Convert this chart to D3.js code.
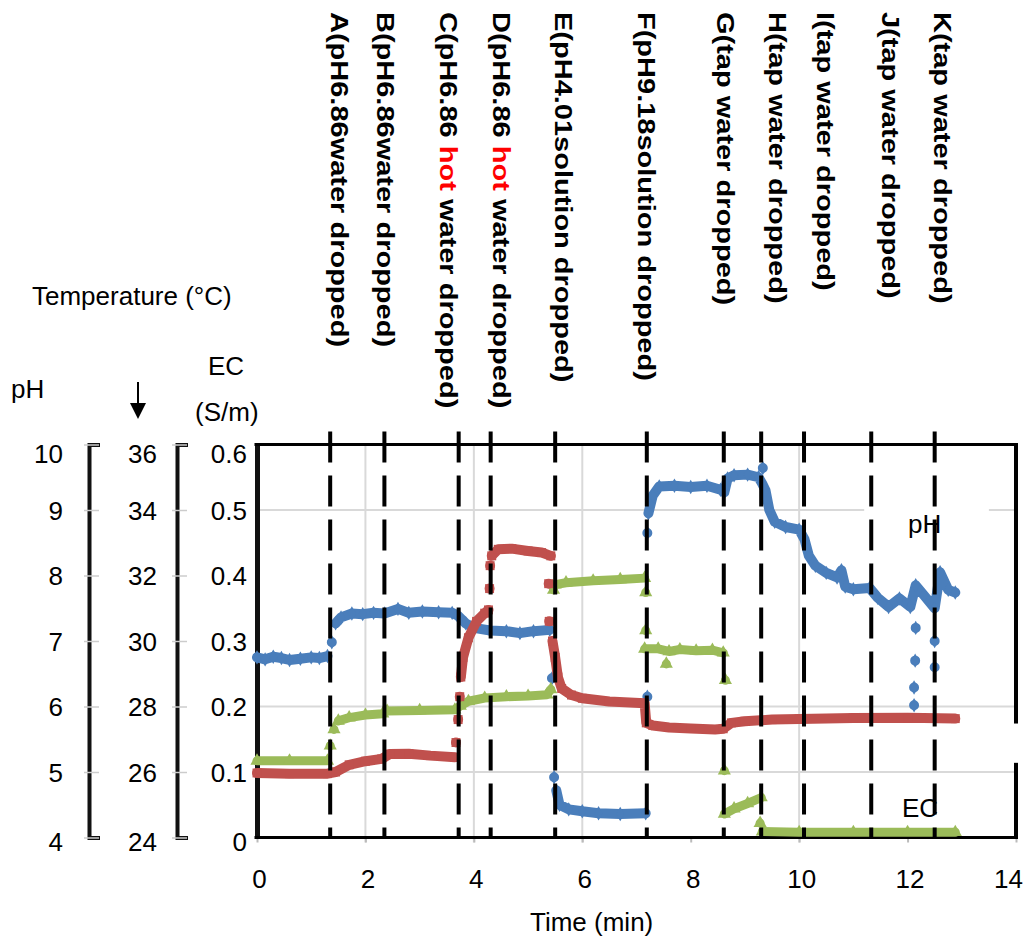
<!DOCTYPE html>
<html>
<head>
<meta charset="utf-8">
<script src="https://cdn.jsdelivr.net/npm/d3@7"></script>
<style>
  body { margin: 0; background: #fff; }
  svg { display: block; font-family: Arial, "Liberation Sans", sans-serif; }
</style>
</head>
<body>
<div id="chart"></div>
<script>
// values; null marks a break in the trace (lone markers)
const phTimes = [0, 0.15, 0.3, 0.45, 0.6, 0.8, 1.0, 1.15, 1.3, null,
  1.38, null,
  1.45, 1.55, 1.75, 1.95, 2.15, 2.35, 2.6, 2.8, 3.05, 3.35, 3.6, 3.7, 3.85, 4.0, 4.3, 4.6, 4.85, 5.1, 5.4, null,
  5.44, null, 5.48, null,
  5.52, 5.58, 5.75, 6.0, 6.3, 6.7, 7.17, null,
  7.2, null, 7.2, null,
  7.22, 7.3, 7.42, 7.7, 8.0, 8.3, 8.55, 8.62, 8.68, 8.8, 9.05, 9.25, 9.32, 9.38, 9.45, 9.55, 9.75, 10.0,
  10.1, 10.18, 10.3, 10.5, 10.7, 10.78, 10.85, 11.0, 11.3, 11.45, 11.65, 11.85, 12.05, 12.15, 12.3, 12.5,
  12.6, 12.75, 12.88, null,
  9.33, null, 12.15, null, 12.14, null, 12.12, null, 12.12, null, 12.5, null, 12.5];
const phValues = [6.75, 6.72, 6.76, 6.74, 6.71, 6.73, 6.75, 6.74, 6.77, null,
  6.98, null,
  7.27, 7.36, 7.42, 7.41, 7.43, 7.42, 7.49, 7.43, 7.45, 7.44, 7.43, 7.39, 7.27, 7.2, 7.16, 7.15, 7.12, 7.15, 7.17, null,
  6.43, null, 4.92, null,
  4.72, 4.5, 4.43, 4.4, 4.37, 4.36, 4.37, null,
  6.15, null, 8.65, null,
  8.95, 9.22, 9.36, 9.37, 9.35, 9.37, 9.31, 9.27, 9.48, 9.53, 9.54, 9.5, 9.4, 9.3, 9.0, 8.82, 8.74, 8.7,
  8.55, 8.3, 8.15, 8.04, 7.97, 8.08, 7.83, 7.79, 7.81, 7.66, 7.52, 7.65, 7.52, 7.85, 7.7, 7.5,
  8.05, 7.78, 7.74, null,
  9.64, null, 7.2, null, 6.7, null, 6.29, null, 6.02, null, 7.0, null, 6.6];

const tempTimes = [0, 0.6, 1.3, 1.45, 1.7, 2.0, 2.3, 2.45, 2.8, 3.2, 3.65, null,
  3.67, null, 3.71, null, 3.74, null,
  3.76, 3.8, 3.9, 4.05, 4.2, 4.27, null,
  4.29, null, 4.3, null,
  4.33, 4.45, 4.7, 5.0, 5.25, 5.42, null,
  5.38, null, 5.39, null,
  5.45, 5.5, 5.55, 5.62, 5.8, 6.0, 6.5, 7.15, 7.18, 7.3, 7.6, 8.0, 8.45, 8.6, 8.75, 9.0, 9.5, 10.0,
  11.0, 12.0, 12.88];
const tempValues = [25.97, 25.95, 25.95, 26.0, 26.22, 26.33, 26.4, 26.55, 26.56, 26.5, 26.45, null,
  26.9, null, 27.6, null, 28.3, null,
  28.9, 29.5, 30.1, 30.6, 30.85, 30.95, null,
  31.6, null, 32.3, null,
  32.6, 32.8, 32.82, 32.75, 32.7, 32.6, null,
  31.75, null, 30.6, null,
  30.0, 29.5, 28.9, 28.55, 28.35, 28.25, 28.15, 28.1, 27.5, 27.42, 27.36, 27.33, 27.3, 27.32, 27.5, 27.55, 27.6, 27.62,
  27.65, 27.66, 27.63];

const ecTimes = [0, 0.6, 1.3, null,
  1.35, null, 1.42, null,
  1.5, 1.7, 2.0, 2.32, 2.4, 3.0, 3.65, 3.75, 3.9, 4.2, 4.6, 5.0, 5.35, 5.42, null,
  5.47, null,
  5.5, 5.7, 6.2, 6.7, 7.15, null,
  7.17, null, 7.17, null,
  7.15, 7.4, 7.6, 7.8, 8.1, 8.4, 8.6, null,
  7.55, null, 8.64, null, 8.62, null,
  8.62, 8.8, 9.05, 9.3, null,
  9.28, null,
  9.32, 10.0, 11.0, 12.0, 12.88];
const ecValues = [0.117, 0.117, 0.117, null,
  0.14, null, 0.165, null,
  0.178, 0.183, 0.187, 0.189, 0.193, 0.194, 0.195, 0.201, 0.208, 0.213, 0.215, 0.216, 0.218, 0.226, null,
  0.378, null,
  0.386, 0.389, 0.392, 0.394, 0.396, null,
  0.374, null, 0.316, null,
  0.288, 0.288, 0.284, 0.287, 0.285, 0.286, 0.282, null,
  0.265, null, 0.24, null, 0.102, null,
  0.036, 0.044, 0.052, 0.061, null,
  0.022, null,
  0.009, 0.008, 0.008, 0.008, 0.008];

// moments something was dropped, and where each label sits
const eventTimes = [1.35, 2.35, 3.72, 4.31, 5.5, 7.19, 8.61, 9.3, 10.09, 11.33, 12.5];
const eventLabelTimes = [1.48, 2.33, 3.5, 4.48, 5.61, 7.14, 8.6, 9.56, 10.44, 11.64, 12.6];
const eventLabels = [
  ["A(pH6.86water dropped)"],
  ["B(pH6.86water dropped)"],
  ["C(pH6.86 ", "hot", " water dropped)"],
  ["D(pH6.86 ", "hot", " water dropped)"],
  ["E(pH4.01solution dropped)"],
  ["F(pH9.18solution dropped)"],
  ["G(tap water dropped)"],
  ["H(tap water dropped)"],
  ["I(tap water dropped)"],
  ["J(tap water dropped)"],
  ["K(tap water dropped)"]
];

const timeTicks = [0, 2, 4, 6, 8, 10, 12, 14];
const ecTicks = [0, 0.1, 0.2, 0.3, 0.4, 0.5, 0.6];
const tempTicks = [24, 26, 28, 30, 32, 34, 36];
const phTicks = [4, 5, 6, 7, 8, 9, 10];

const width = 1025;
const height = 938;
const plotLeft = 257, plotRight = 1016, plotTop = 444.5, plotBottom = 837.5;

const blue = "#4a7ebb";
const red = "#c0504d";
const green = "#9bbb59";

let svg = d3.select("#chart").append("svg")
  .attr("width", width)
  .attr("height", height);

let x = d3.scaleLinear().domain([0, 14]).range([plotLeft, plotRight]);
let yEc = d3.scaleLinear().domain([0, 0.6]).range([plotBottom, plotTop]);
let yTemp = d3.scaleLinear().domain([24, 36]).range([plotBottom, plotTop]);
let yPh = d3.scaleLinear().domain([4, 10]).range([plotBottom, plotTop]);

// gridlines (only some of them survive in the original figure)
let grid = svg.append("g").attr("stroke", "#d9d9d9").attr("stroke-width", 2);
[0.1, 0.2, 0.5].forEach(function (v) {
  grid.append("line")
    .attr("x1", plotLeft).attr("x2", plotRight)
    .attr("y1", yEc(v)).attr("y2", yEc(v));
});
[2, 4, 6, 10].forEach(function (t) {
  grid.append("line")
    .attr("x1", x(t)).attr("x2", x(t))
    .attr("y1", plotTop).attr("y2", plotBottom + 5);
});
// white text box that hides part of the 0.5 gridline
svg.append("rect")
  .attr("x", x(11.2)).attr("width", x(13.5) - x(11.2))
  .attr("y", yEc(0.51)).attr("height", yEc(0.49) - yEc(0.51))
  .attr("fill", "#fff");

// x axis
let xAxis = d3.axisBottom(x)
  .tickValues(timeTicks)
  .tickFormat(String)
  .tickSizeInner(5)
  .tickSizeOuter(0)
  .tickPadding(27);

let xg = svg.append("g")
  .attr("transform", `translate(0, ${plotBottom})`)
  .call(xAxis);
xg.select(".domain").remove();
xg.selectAll(".tick line").attr("stroke", "#bbb").attr("stroke-width", 2);
xg.selectAll(".tick text").attr("font-size", 26).attr("fill", "#000")
  .attr("font-family", "Arial, 'Liberation Sans', sans-serif")
  .attr("dx", function (d, i) { return i === timeTicks.length - 1 ? -8 : 2; });

svg.append("text")
  .attr("x", 530).attr("y", 931)
  .attr("font-size", 26)
  .text("Time (min)");

// left axes
function leftAxis(scale, ticks, xPos, pad, bracket) {
  let axis = d3.axisLeft(scale)
    .tickValues(ticks)
    .tickFormat(String)
    .tickSizeInner(0)
    .tickSizeOuter(bracket ? -11 : 0)
    .tickPadding(pad);
  let g = svg.append("g")
    .attr("transform", `translate(${xPos}, 0)`)
    .call(axis);
  g.select(".domain").attr("stroke", "#111").attr("stroke-width", bracket ? 4 : 5);
  g.selectAll(".tick text")
    .attr("font-size", 26).attr("fill", "#000")
    .attr("font-family", "Arial, 'Liberation Sans', sans-serif")
    .attr("dy", function (d, i) {
      if (i === ticks.length - 1) return "0.68em";
      if (i === 0) return "0.5em";
      return "0.36em";
    });
  return g;
}

let phG = leftAxis(yPh, phTicks, 89, 26, true);
let tempG = leftAxis(yTemp, tempTicks, 177, 20, true);
let ecG = leftAxis(yEc, ecTicks, 257, 10, false);

// small gray ticks on the bracket axes
[phG, tempG].forEach(function (g) {
  g.selectAll(".tick").append("line")
    .attr("x1", -5).attr("x2", 10)
    .attr("stroke", "#ccc").attr("stroke-width", 1.5)
    .lower();
});

// frame
svg.append("line")
  .attr("x1", plotLeft - 2.5).attr("x2", plotRight + 2)
  .attr("y1", plotTop).attr("y2", plotTop)
  .attr("stroke", "#000").attr("stroke-width", 3);
svg.append("line")
  .attr("x1", plotLeft - 2.5).attr("x2", plotRight + 2)
  .attr("y1", plotBottom).attr("y2", plotBottom)
  .attr("stroke", "#000").attr("stroke-width", 3);
svg.append("line")
  .attr("x1", plotRight).attr("x2", plotRight)
  .attr("y1", plotTop).attr("y2", plotBottom)
  .attr("stroke", "#000").attr("stroke-width", 4);
svg.append("rect")
  .attr("x", x(13.85)).attr("width", 20)
  .attr("y", yEc(0.174)).attr("height", yEc(0.114) - yEc(0.174))
  .attr("fill", "#fff");

// axis titles
svg.append("text").attr("x", 32).attr("y", 305).attr("font-size", 26).text("Temperature (°C)");
svg.append("text").attr("x", 11).attr("y", 398).attr("font-size", 26).text("pH");
svg.append("text").attr("x", 208).attr("y", 375).attr("font-size", 26).text("EC");
svg.append("text").attr("x", 195).attr("y", 421).attr("font-size", 26).text("(S/m)");

svg.append("line")
  .attr("x1", 138).attr("x2", 138)
  .attr("y1", 382).attr("y2", 405)
  .attr("stroke", "#000").attr("stroke-width", 2);
svg.append("path")
  .attr("d", "M130,403L146,403L138,419Z")
  .attr("fill", "#000");

// series
function series(times, values, yScale, color, width, symbol, size) {
  let data = d3.zip(times, values);
  let line = d3.line()
    .defined(function (d) { return d[1] !== null; })
    .x(function (d) { return x(d[0]); })
    .y(function (d) { return yScale(d[1]); });

  svg.append("path")
    .datum(data)
    .attr("d", line)
    .attr("fill", "none")
    .attr("stroke", color)
    .attr("stroke-width", width)
    .attr("stroke-linejoin", "round")
    .attr("stroke-linecap", "round");

  svg.append("g")
    .selectAll("path")
    .data(data.filter(function (d) { return d[1] !== null; }))
    .enter()
    .append("path")
    .attr("transform", function (d) { return `translate(${x(d[0])}, ${yScale(d[1])})`; })
    .attr("d", d3.symbol().type(symbol).size(size))
    .attr("fill", color);
}

series(phTimes, phValues, yPh, blue, 10, d3.symbolDiamond, 60);
series(ecTimes, ecValues, yEc, green, 9, d3.symbolTriangle, 75);
series(tempTimes, tempValues, yTemp, red, 10, d3.symbolSquare, 80);

// in-plot labels
svg.append("text").attr("x", 908).attr("y", 533).attr("font-size", 26).text("pH");
svg.append("text").attr("x", 902).attr("y", 817).attr("font-size", 26).text("EC");

// dashed event lines
svg.append("g")
  .selectAll("line")
  .data(eventTimes)
  .enter()
  .append("line")
  .attr("x1", function (d) { return x(d); })
  .attr("x2", function (d) { return x(d); })
  .attr("y1", yEc(0.62))
  .attr("y2", plotBottom)
  .attr("stroke", "#000")
  .attr("stroke-width", 4)
  .attr("stroke-dasharray", "31,13");

// rotated event labels
let labels = svg.append("g")
  .selectAll("text")
  .data(eventLabels)
  .enter()
  .append("text")
  .attr("transform", function (d, i) {
    return `translate(${x(eventLabelTimes[i])}, 12) rotate(90) scale(1, 0.85)`;
  })
  .attr("dy", "0.26em")
  .attr("font-size", 29)
  .attr("font-weight", "bold");

labels.selectAll("tspan")
  .data(function (d) { return d; })
  .enter()
  .append("tspan")
  .attr("fill", function (d) { return d === "hot" ? "#ff0000" : "#000"; })
  .text(function (d) { return d; });
</script>
</body>
</html>
